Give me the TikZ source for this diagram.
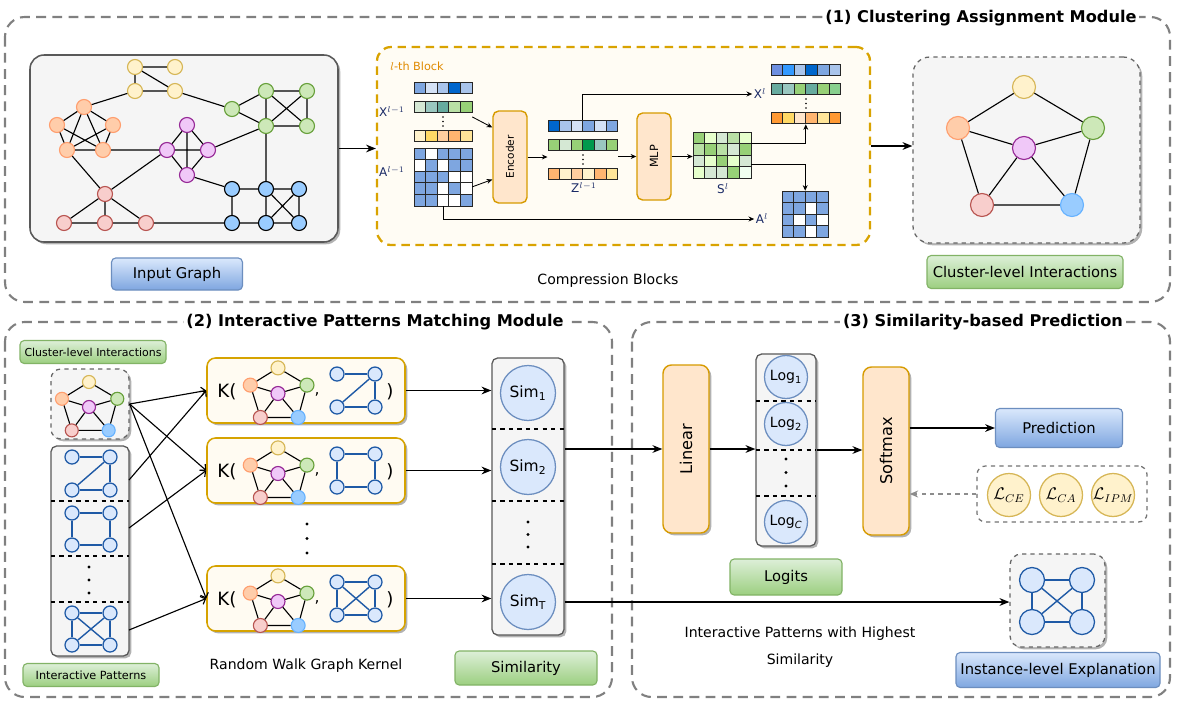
\documentclass[tikz,border=0pt]{standalone}
\usepackage{fontspec}
\setmainfont{DejaVu Sans}
\usetikzlibrary{arrows.meta, shadows, calc}

\definecolor{yfill}{HTML}{FFF2CC}\definecolor{ydraw}{HTML}{D6B656}
\definecolor{ofill}{HTML}{FFCDAA}\definecolor{odraw}{HTML}{FF9E6E}
\definecolor{gfill}{HTML}{CDE8B8}\definecolor{gdraw}{HTML}{67A03A}
\definecolor{pfill}{HTML}{F0C8F8}\definecolor{pdraw}{HTML}{962896}
\definecolor{rfill}{HTML}{F8CECC}\definecolor{rdraw}{HTML}{B85450}
\definecolor{bfill}{HTML}{99CCFF}\definecolor{bdraw}{HTML}{66B2FF}
\definecolor{patfill}{HTML}{DAE8FC}\definecolor{patdraw}{HTML}{1F5AA6}
\definecolor{simfill}{HTML}{DAE8FC}\definecolor{simdraw}{HTML}{6C8EBF}
\definecolor{boxfill}{HTML}{FFE6CC}\definecolor{boxdraw}{HTML}{D79B00}
\definecolor{blkfill}{HTML}{FFFCF4}\definecolor{blkdraw}{HTML}{D9A300}
\definecolor{blktxt}{HTML}{E08A00}
\definecolor{kfill}{HTML}{FFFBF2}\definecolor{kdraw}{HTML}{D6A300}
\definecolor{panel}{HTML}{F5F5F5}
\definecolor{lgtop}{HTML}{DDEFD8}\definecolor{lgbot}{HTML}{9CCF80}\definecolor{lgdraw}{HTML}{82B366}
\definecolor{lbtop}{HTML}{DAE8FC}\definecolor{lbbot}{HTML}{7EA6E0}\definecolor{lbdraw}{HTML}{6C8EBF}
\definecolor{navy}{HTML}{1A2A66}

\newcommand{\pxu}{0.025cm}
\newcommand{\lblfont}{\fontsize{10.5}{12}\selectfont}

% one row of coloured cells, #1 x, #2 y (top left), #3 hex colours
\newcommand{\cellrow}[3]{%
  \foreach \c [count=\i from 0] in {#3} {%
    \definecolor{cellc}{HTML}{\c}%
    \filldraw[cell, fill=cellc] ({#1+\i*11.6},{#2}) rectangle ++(11.6,11.6);
  }}

% cluster graph, #1 prefix, #2 x, #3 y of the centre node, #4 scale, #5 node size
\newcommand{\pentagraph}[5]{%
  \foreach \n/\dx/\dy/\s in {y/0/-61/cy, o/-66/-20/co, g/69/-20/cg, p/0/0/cp, r/-42/57/cr, b/48/57/cb}
    \node[gnode=#5, \s] (#1\n) at ({#2+(#4)*(\dx)},{#3+(#4)*(\dy)}) {};
  \draw[gedge] (#1y)--(#1o) (#1y)--(#1g) (#1o)--(#1p) (#1g)--(#1p) (#1o)--(#1r)
    (#1g)--(#1b) (#1p)--(#1r) (#1p)--(#1b) (#1r)--(#1b);
}

% pattern graph, #1 prefix, #2 #3 centre, #4 #5 half sizes, #6 node size, #7 edges
\newcommand{\patgraph}[7]{%
  \node[pnode=#6] (#1a) at ({#2-#4},{#3-#5}) {};
  \node[pnode=#6] (#1b) at ({#2+#4},{#3-#5}) {};
  \node[pnode=#6] (#1c) at ({#2-#4},{#3+#5}) {};
  \node[pnode=#6] (#1d) at ({#2+#4},{#3+#5}) {};
  \foreach \u/\v in {#7} \draw[pedge] (#1\u) -- (#1\v);
}

\tikzset{
    sz/.style 2 args={minimum width=#1*\pxu, minimum height=#2*\pxu, inner sep=0pt},
    gnode/.style={circle, draw, line width=0.8pt, inner sep=0pt, minimum size=#1*\pxu},
    cy/.style={fill=yfill, draw=ydraw},
    co/.style={fill=ofill, draw=odraw},
    cg/.style={fill=gfill, draw=gdraw},
    cp/.style={fill=pfill, draw=pdraw},
    cr/.style={fill=rfill, draw=rdraw},
    cb/.style={fill=bfill, draw=bdraw},
    gedge/.style={draw=black, line width=0.8pt},
    pnode/.style={circle, draw=patdraw, fill=patfill, line width=0.9pt, inner sep=0pt, minimum size=#1*\pxu},
    pedge/.style={draw=patdraw, line width=1pt},
    cell/.style={draw=black!85, line width=0.5pt},
    boxshadow/.style={drop shadow={shadow xshift=1.6pt, shadow yshift=-1.6pt, opacity=0.3, fill=black}},
    panelbox/.style={boxshadow, rounded corners=4pt, fill=panel, draw=black!65, line width=0.9pt},
    dashbox/.style={boxshadow, rounded corners=7pt, fill=panel, draw=black!60, dashed, line width=0.9pt},
    lossbox/.style={rounded corners=6pt, fill=white, draw=black!55, dashed, line width=0.9pt},
    blkbox/.style={rounded corners=10pt, fill=blkfill, draw=blkdraw, dash pattern=on 6pt off 4pt, line width=1.6pt},
    kbox/.style={boxshadow, rounded corners=6pt, fill=kfill, draw=kdraw, line width=1.1pt},
    orbox/.style={rounded corners=4pt, fill=boxfill, draw=boxdraw, line width=1pt},
    greenlbl/.style={rounded corners=3pt, draw=lgdraw, top color=lgtop, bottom color=lgbot, line width=0.8pt, font=\lblfont},
    bluelbl/.style={rounded corners=3pt, draw=lbdraw, top color=lbtop, bottom color=lbbot, line width=0.8pt, font=\lblfont},
    modframe/.style={draw=black!50, dash pattern=on 7pt off 4.5pt, line width=1.5pt, rounded corners=14pt},
    modtitle/.style={font=\fontsize{11.5}{14}\selectfont\bfseries, fill=white, inner sep=2pt},
    simnode/.style={circle, draw=simdraw, fill=simfill, line width=0.9pt, inner sep=0pt, minimum size=#1*\pxu},
    lossnode/.style={circle, draw=ydraw, fill=yfill, line width=0.9pt, inner sep=0pt, minimum size=43*\pxu, font=\fontsize{12}{14}\selectfont},
    mlbl/.style={font=\fontsize{8.5}{9}\selectfont, text=navy, inner sep=1pt},
    sepline/.style={draw=black, dashed, line width=0.8pt},
    arr/.style={-{Stealth[length=7pt, width=5.5pt]}, line width=0.9pt},
    sarr/.style={-{Stealth[length=4pt, width=3.5pt]}, line width=0.6pt},
    karr/.style={-{Straight Barb[length=3pt, width=6pt]}, line width=0.8pt},
    darr/.style={-{Stealth[length=6pt, width=5pt]}, draw=black!45, dashed, line width=0.9pt},
}

\begin{document}
\begin{tikzpicture}[x=0.025cm, y=-0.025cm]
\fill[white] (0,0) rectangle (1184,706);
\useasboundingbox (0,0) rectangle (1184,706);

% module frames
\draw[modframe] (5,17) rectangle (1170,302);
\draw[modframe] (5,322) rectangle (612,697);
\draw[modframe] (632,322) rectangle (1170,697);
\node[modtitle] (t1) at (981,18) {(1) Clustering Assignment Module};
\node[modtitle] (t2) at (375,322) {(2) Interactive Patterns Matching Module};
\node[modtitle] (t3) at (983,322) {(3) Similarity-based Prediction};

%% (1) input graph
\node[panelbox, sz={308}{187}, rounded corners=10pt, line width=1.1pt] (ig) at (184,148.5) {};
\foreach \n/\x/\y in {y1/135/67, y2/175/67, y3/135/91, y4/175/91}
  \node[gnode=15, cy] (\n) at (\x,\y) {};
\foreach \n/\x/\y in {o1/84/107, o2/57/125, o3/113/125, o4/67/150, o5/103/150}
  \node[gnode=15, co] (\n) at (\x,\y) {};
\foreach \n/\x/\y in {p1/187/125, p2/167/150, p3/208/150, p4/187/175}
  \node[gnode=15, cp] (\n) at (\x,\y) {};
\foreach \n/\x/\y in {g1/232/109, g2/266/91, g3/307/91, g4/266/126, g5/307/126}
  \node[gnode=15, cg] (\n) at (\x,\y) {};
\foreach \n/\x/\y in {b1/232/189, b2/266/189, b3/299/189, b4/232/223, b5/266/223, b6/299/223}
  \node[gnode=15, cb, draw=black] (\n) at (\x,\y) {};
\foreach \n/\x/\y in {r1/105/194, r2/64/223, r3/105/223, r4/146/223}
  \node[gnode=15, cr] (\n) at (\x,\y) {};
\draw[gedge]
  (y1)--(y2) (y3)--(y4) (y1)--(y3) (y1)--(y4)
  (o1)--(o2) (o1)--(o3) (o1)--(o4) (o1)--(o5) (o2)--(o4) (o2)--(o5) (o3)--(o4) (o3)--(o5) (o4)--(o5)
  (p1)--(p2) (p1)--(p3) (p1)--(p4) (p2)--(p3) (p2)--(p4) (p3)--(p4)
  (g1)--(g2) (g1)--(g4) (g2)--(g3) (g2)--(g4) (g3)--(g5) (g4)--(g5) (g2)--(g5) (g3)--(g4)
  (b1)--(b2) (b2)--(b3) (b1)--(b4) (b2)--(b5) (b3)--(b6) (b4)--(b5) (b5)--(b6) (b2)--(b6) (b3)--(b5)
  (r1)--(r2) (r1)--(r3) (r1)--(r4) (r2)--(r3) (r3)--(r4)
  (y3)--(o1) (y4)--(g1) (o5)--(p2) (o4)--(r1) (r1)--(p2) (p3)--(g4) (p4)--(b1) (g4)--(b2) (r4)--(b4);
\node[bluelbl, sz={131}{32}] (iglbl) at (177,274) {Input Graph};

%% (1) compression block
\node[blkbox, sz={493}{198}] (blk) at (623.5,146) {};
\node[font=\fontsize{8}{9}\selectfont, text=blktxt] (blkt) at (417,66) {$l$-th Block};
\node[font=\fontsize{10}{12}\selectfont] (cmpl) at (608,281) {Compression Blocks};
\draw[arr] (ig.east) -- (ig.east -| blk.west);

% X^{l-1}
\cellrow{414}{82}{7EA6E0,D4E1F5,A9C4EB,0066CC,A9C4EB}
\cellrow{414}{101}{D5E8D4,9AC7BF,67AB9F,B9E0A5,97D077}
\cellrow{414}{130}{FFF2CC,FFD966,FFCE9F,FFB570,FFE599}
\foreach \d in {0,1,2} \fill (443,{117+\d*4.5}) circle (0.6pt);
% A^{l-1}
\cellrow{414}{148}{7EA6E0,FFFFFF,7EA6E0,7EA6E0,7EA6E0}
\cellrow{414}{159.6}{FFFFFF,7EA6E0,FFFFFF,7EA6E0,7EA6E0}
\cellrow{414}{171.2}{7EA6E0,7EA6E0,7EA6E0,FFFFFF,FFFFFF}
\cellrow{414}{182.8}{7EA6E0,7EA6E0,FFFFFF,7EA6E0,FFFFFF}
\cellrow{414}{194.4}{7EA6E0,7EA6E0,FFFFFF,FFFFFF,7EA6E0}
% Z^{l-1}
\cellrow{548}{120}{0066CC,A9C4EB,D4E1F5,7EA6E0,D4E1F5,7EA6E0}
\cellrow{548}{139}{97D077,D5E8D4,97D077,00994D,9AC7BF,97D077}
\cellrow{548}{168}{FFB570,FFF2CC,FFCE9F,FFF2CC,FFB570,FFE599}
\foreach \d in {0,1,2} \fill (583,{155+\d*4.5}) circle (0.6pt);
% S^l
\cellrow{693}{132}{97D077,E6FFCC,D5E8D4,B9E0A5,E6FFCC}
\cellrow{693}{143.6}{B9E0A5,97D077,B9E0A5,D5E8D4,97D077}
\cellrow{693}{155.2}{D5E8D4,E6FFCC,97D077,E6FFCC,D5E8D4}
\cellrow{693}{166.8}{E6FFCC,D5E8D4,D5E8D4,97D077,F0FFF0}
% X^l
\cellrow{771}{64}{6C8EE0,3399FF,A9C4EB,0066CC,7EA6E0,A9C4EB}
\cellrow{771}{83}{67AB9F,9AC7BF,97D077,67AB9F,97D077,88D08F}
\cellrow{771}{112}{FF9933,FFD966,FFE6CC,FFB570,FFE599,FF9933}
\foreach \d in {0,1,2} \fill (806,{99+\d*4.5}) circle (0.6pt);
% A^l
\cellrow{782}{191}{7EA6E0,7EA6E0,7EA6E0,7EA6E0}
\cellrow{782}{202.6}{7EA6E0,7EA6E0,FFFFFF,7EA6E0}
\cellrow{782}{214.2}{7EA6E0,FFFFFF,7EA6E0,FFFFFF}
\cellrow{782}{225.8}{7EA6E0,7EA6E0,FFFFFF,7EA6E0}

\node[sz={58}{60}] (xin) at (443,112) {};
\node[sz={58}{58}] (ain) at (443,177) {};
\node[sz={70}{60}] (zz) at (582.8,150) {};
\node[sz={58}{46.4}] (ss) at (722,155.2) {};
\node[sz={70}{60}] (xout) at (805.8,94) {};
\node[sz={46.4}{46.4}] (aout) at (805.2,214.2) {};
\node[mlbl] (xinl) at (392,112) {X$^{l-1}$};
\node[mlbl] (ainl) at (392,172) {A$^{l-1}$};
\node[mlbl] (zzl) at (584,188) {Z$^{l-1}$};
\node[mlbl] (ssl) at (723,189) {S$^{l}$};
\node[mlbl] (xl) at (760,94) {X$^{l}$};
\node[mlbl] (al) at (762,219) {A$^{l}$};

\node[orbox, sz={34}{92}] (enc) at (510,157) {};
\node[rotate=90, font=\fontsize{7.5}{9}\selectfont] (enct) at (enc) {Encoder};
\node[orbox, sz={34}{87}] (mlp) at (654,156.5) {};
\node[rotate=90, font=\fontsize{8}{9}\selectfont] (mlpt) at (mlp) {MLP};

\draw[sarr] ([yshift=-3.5pt]xin.east) -- ([yshift=21pt]enc.west);
\draw[sarr] ([yshift=-7pt]ain.east) -- ([yshift=-16pt]enc.west);
\draw[sarr] (enc.east) -- (enc.east -| zz.west);
\draw[sarr] (zz.east |- mlp.west) -- (mlp.west);
\draw[sarr] (mlp.east) -- (mlp.east -| ss.west);
\draw[sarr] (zz.north) |- (xl.west);
\draw[sarr] (ain.south) |- (al.west);
\draw[sarr] ([yshift=8.5pt]ss.east) -| (xout.south);
\draw[sarr] ([yshift=-6.4pt]ss.east) -| (aout.north);

%% (1) cluster-level interactions
\node[dashbox, sz={227}{186}, rounded corners=12pt] (cl) at (1026.5,150) {};
\pentagraph{c}{1024}{148}{1}{23}
\draw[arr] (blk.east) -- (blk.east -| cl.west);
\node[greenlbl, sz={196}{33}] (cllbl) at (1025,272) {Cluster-level Interactions};

%% (2) left column
\node[greenlbl, sz={146}{23}, font=\fontsize{7.8}{9}\selectfont] (clslbl) at (93,352) {Cluster-level Interactions};
\node[dashbox, sz={78}{70}] (cls) at (90,404) {};
\pentagraph{s}{89}{407}{0.41}{13}
\node[panelbox, sz={78}{210}] (pcol) at (90,551) {};
\draw[sepline] (51,501) -- (129,501);
\draw[sepline] (51,556) -- (129,556);
\draw[sepline] (51,602) -- (129,602);
\patgraph{pa}{91}{473.5}{19}{16.5}{14}{a/b,b/d,c/d,c/b}
\patgraph{pb}{91}{529}{19}{16}{14}{a/b,b/d,c/d,a/c}
\patgraph{pt}{91}{629}{19}{16}{14}{a/b,b/d,c/d,a/c,a/d,b/c}
\foreach \d in {0,1,2} \fill (89,{567+\d*13}) circle (1.1pt);
\node[greenlbl, sz={136}{23}, font=\fontsize{8}{9}\selectfont] (patlbl) at (91,675) {Interactive Patterns};
\coordinate (pao) at (129,480);
\coordinate (pbo) at (129,528);
\coordinate (pto) at (129,630);

%% (2) kernels
\foreach \k/\yy in {1/390.5, 2/470.5, 3/598.5} {
  \node[kbox, sz={198}{65}] (k\k) at (306,\yy) {};
  \node[font=\fontsize{13}{15}\selectfont, inner sep=0pt] (kl\k) at (227,\yy+1.5) {K(};
  \pentagraph{k\k}{278}{\yy+3}{0.42}{14}
  \node[font=\fontsize{11}{13}\selectfont] (kc\k) at (317,\yy+4) {,};
  \node[font=\fontsize{13}{15}\selectfont] (kr\k) at (390,\yy+1.5) {)};
}
\patgraph{qa}{356}{390.5}{19}{16.5}{14}{a/b,b/d,c/d,c/b}
\patgraph{qb}{356}{470.5}{19}{16.5}{14}{a/b,b/d,c/d,a/c}
\patgraph{qt}{356}{598.5}{19}{16.5}{14}{a/b,b/d,c/d,a/c,a/d,b/c}
\foreach \d in {0,1,2} \fill (307,{524+\d*14.5}) circle (1.1pt);
\node[font=\fontsize{10}{12}\selectfont] (rwk) at (306,666) {Random Walk Graph Kernel};

\draw[karr] (cls.east) -- (k1.west);
\draw[karr] (cls.east) -- (k2.west);
\draw[karr] (cls.east) -- (k3.west);
\draw[karr] (pao) -- (k1.west);
\draw[karr] (pbo) -- (k2.west);
\draw[karr] (pto) -- (k3.west);

%% (2) similarity column
\node[panelbox, sz={72}{277}] (sim) at (528,496.5) {};
\draw[sepline] (492,429) -- (564,429);
\draw[sepline] (492,501) -- (564,501);
\draw[sepline] (492,564) -- (564,564);
\node[simnode=55, font=\fontsize{11}{13}\selectfont] (s1) at (528,393) {Sim\textsubscript{1}};
\node[simnode=55, font=\fontsize{11}{13}\selectfont] (s2) at (528,467) {Sim\textsubscript{2}};
\node[simnode=55, font=\fontsize{11}{13}\selectfont] (sT) at (528,602) {Sim\textsubscript{T}};
\foreach \d in {0,1,2} \fill (528,{522+\d*12.5}) circle (1.1pt);
\node[greenlbl, sz={142}{34}] (simlbl) at (526,668) {Similarity};
\draw[arr] (k1.east) -- (k1.east -| sim.west);
\draw[arr] (k2.east) -- (k2.east -| sim.west);
\draw[arr] (k3.east) -- (k3.east -| sim.west);

%% (3) prediction
\node[orbox, boxshadow, sz={46}{168}, rounded corners=6pt] (lin) at (686,449) {};
\node[rotate=90, font=\fontsize{11.5}{13}\selectfont] (lint) at (lin) {Linear};
\node[panelbox, sz={60}{192}] (logc) at (786,450) {};
\draw[sepline] (756,401) -- (816,401);
\draw[sepline] (756,450) -- (816,450);
\draw[sepline] (756,496) -- (816,496);
\node[simnode=43, font=\fontsize{10}{12}\selectfont] (l1) at (786,377) {Log\textsubscript{1}};
\node[simnode=43, font=\fontsize{10}{12}\selectfont] (l2) at (786,424) {Log\textsubscript{2}};
\node[simnode=43, font=\fontsize{10}{12}\selectfont] (lC) at (786,522) {Log\textsubscript{\textit{C}}};
\foreach \d in {0,1,2} \fill (786,{459+\d*13.5}) circle (1.1pt);
\node[greenlbl, sz={112}{36}] (loglbl) at (786,577) {Logits};
\node[orbox, boxshadow, sz={46}{168}, rounded corners=6pt] (soft) at (886,451) {};
\node[rotate=90, font=\fontsize{11.5}{13}\selectfont] (softt) at (soft) {Softmax};
\node[bluelbl, sz={127}{39}] (pred) at (1059,428) {Prediction};
\node[lossbox, sz={170}{56}] (loss) at (1062,494) {};
\node[lossnode] (lce) at (1009,495) {$\mathcal{L}_{CE}$};
\node[lossnode] (lca) at (1061,495) {$\mathcal{L}_{CA}$};
\node[lossnode] (lipm) at (1113,495) {$\mathcal{L}_{IPM}$};
\node[dashbox, sz={95}{93}, rounded corners=8pt] (inst) at (1057.5,600.5) {};
\patgraph{ix}{1057}{601}{25}{21}{25}{a/b,b/d,c/d,a/c,a/d,b/c}
\node[bluelbl, sz={204}{35}] (instlbl) at (1058,670) {Instance-level Explanation};
\node[align=center, font=\fontsize{10}{19}\selectfont] (hitxt) at (800,647) {Interactive Patterns with Highest\\Similarity};

\draw[arr] (sim.east |- lin.west) -- (lin.west);
\draw[arr] (lin.east) -- (lin.east -| logc.west);
\draw[arr] (logc.east) -- (logc.east -| soft.west);
\draw[arr] (soft.east |- pred.west) -- (pred.west);
\draw[darr] (loss.west) -- (loss.west -| soft.east);
\draw[arr] (sT.east -| sim.east) -- (sT.east -| inst.west);
\end{tikzpicture}
\end{document}
